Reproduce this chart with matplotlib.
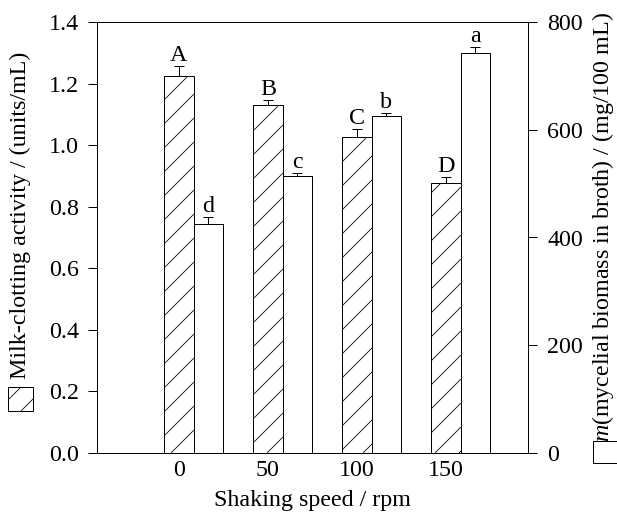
import matplotlib
matplotlib.use("Agg")
import matplotlib.pyplot as plt
from matplotlib.patches import Rectangle

plt.rcParams['font.family'] = ['Liberation Serif', 'DejaVu Serif']
plt.rcParams['mathtext.fontset'] = 'custom'
plt.rcParams['mathtext.rm'] = 'Liberation Serif'
plt.rcParams['mathtext.it'] = 'Liberation Serif:italic'
plt.rcParams['hatch.linewidth'] = 0.8

# data
speeds = [0, 50, 100, 150]
activity = [1.226, 1.129, 1.026, 0.877]
activity_err = [0.030, 0.017, 0.027, 0.020]
activity_letters = ['A', 'B', 'C', 'D']
biomass = [425, 515, 626, 742]
biomass_err = [13, 5, 6, 11]
biomass_letters = ['d', 'c', 'b', 'a']

fs = 24
w = 16.5

fig = plt.figure(figsize=(617 / 72, 512 / 72), dpi=72)
ax = fig.add_axes([97 / 617, 59 / 512, 431 / 617, 431 / 512])
ax2 = ax.twinx()

ax.bar(speeds, activity, width=w, color='white', edgecolor='black',
       hatch='/', linewidth=1.0, zorder=2)
ax.errorbar(speeds, activity, yerr=[[0] * 4, activity_err], fmt='none',
            ecolor='black', elinewidth=1.0, capsize=5, capthick=1.0, zorder=3)
for x, y, e, t in zip(speeds, activity, activity_err, activity_letters):
    ax.annotate(t, (x, y + e), xytext=(0, 0), textcoords='offset points',
                ha='center', va='bottom', fontsize=fs)

x2 = [s + w for s in speeds]
ax2.bar(x2, biomass, width=w, color='white', edgecolor='black',
        linewidth=1.0, zorder=2)
ax2.errorbar(x2, biomass, yerr=[[0] * 4, biomass_err], fmt='none',
             ecolor='black', elinewidth=1.0, capsize=5, capthick=1.0, zorder=3)
for x, y, e, t in zip(x2, biomass, biomass_err, biomass_letters):
    ax2.annotate(t, (x, y + e), xytext=(0, 0), textcoords='offset points',
                 ha='center', va='bottom', fontsize=fs)

ax.set_xlim(-46, 196)
ax.set_ylim(0, 1.4)
ax2.set_ylim(0, 800)
ax.set_xticks(speeds)
ax.set_yticks([0, 0.2, 0.4, 0.6, 0.8, 1.0, 1.2, 1.4])
ax.set_yticklabels(['0.0', '0.2', '0.4', '0.6', '0.8', '1.0', '1.2', '1.4'])
ax2.set_yticks([0, 200, 400, 600, 800])
ax.tick_params(axis='x', length=0, pad=7, labelsize=fs)
ax.tick_params(axis='y', direction='out', length=9, width=1, pad=9, labelsize=fs)
ax2.tick_params(axis='y', direction='out', length=9, width=1, pad=10, labelsize=fs)
for a in (ax, ax2):
    for sp in a.spines.values():
        sp.set_linewidth(1.0)

ax.set_xlabel('Shaking speed / rpm', fontsize=fs, labelpad=9)

# axis titles with their legend boxes
fig.text(20 / 617, 1 - 215 / 512, 'Milk-clotting activity / (units/mL)',
         rotation=90, ha='center', va='center', fontsize=fs)
fig.text(603 / 617, 1 - 227 / 512, r'$m$(mycelial biomass in broth) / (mg/100 mL)',
         rotation=90, ha='center', va='center', fontsize=fs)
fig.patches.append(Rectangle((8 / 617, 1 - 411 / 512), 25 / 617, 24 / 512,
                             transform=fig.transFigure, facecolor='white',
                             edgecolor='black', hatch='/', linewidth=1.0))
fig.patches.append(Rectangle((593 / 617, 1 - 463 / 512), 30 / 617, 22 / 512,
                             transform=fig.transFigure, facecolor='white',
                             edgecolor='black', linewidth=1.0))

fig.savefig('out.png', dpi=72)
